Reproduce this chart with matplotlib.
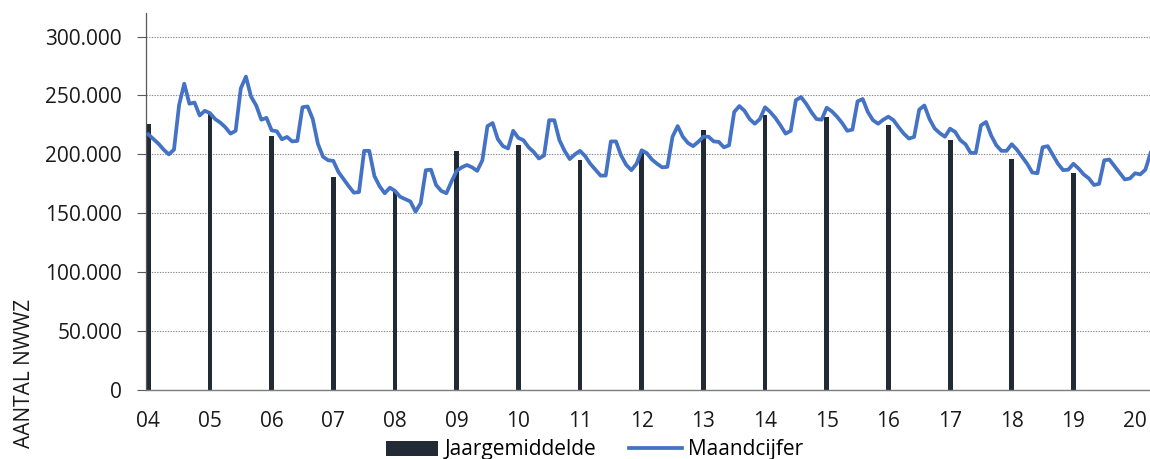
import matplotlib
matplotlib.use("Agg")
import matplotlib.pyplot as plt
from matplotlib.ticker import FuncFormatter, FixedLocator
from matplotlib.patches import Patch
from matplotlib.lines import Line2D
import numpy as np

plt.rcParams['font.family'] = ['Open Sans', 'DejaVu Sans']

# ---- data ----
year_labels = ['04', '05', '06', '07', '08', '09', '10', '11', '12', '13',
               '14', '15', '16', '17', '18', '19', '20']
annual_avg = [226000, 234000, 216000, 180500, 168000, 202700, 207700, 195000,
              201000, 221000, 233000, 232000, 224600, 212500, 196000, 184600]
monthly = [
    217, 213, 209, 204, 200, 204, 242, 260, 243, 244, 233, 237,
    235, 230, 227, 223, 217.6, 220, 256, 266, 249, 241.5, 229.4, 231,
    220.4, 219.6, 212.8, 214.8, 211, 211.4, 240, 240.7, 230, 209, 198, 195,
    194.5, 185, 179, 173, 167.5, 168, 203, 203, 181.5, 173, 167, 171.7,
    169, 164, 162, 160, 151.4, 158.5, 186.6, 187, 174, 169, 167, 177,
    186, 189, 191, 189, 186, 195, 224, 226.6, 213, 207, 205, 220,
    214, 212, 206, 202, 196.5, 199, 229, 229, 212, 203, 196, 200,
    203, 198.5, 192, 187, 182, 182, 211, 211, 199, 191, 186.6, 192,
    203.5, 201, 195.6, 192, 189, 189.4, 215, 224, 215, 209.7, 207, 210.6,
    215, 215, 211, 210.6, 206, 207.7, 236, 241, 237, 230, 226, 230,
    240, 236, 231, 224.6, 217.6, 220, 246, 248.6, 243, 236, 230, 229.4,
    239.6, 236.5, 232, 226.6, 220, 221, 245, 247, 236, 229, 226, 229.4,
    232, 229, 223, 217.6, 213.4, 214.8, 238, 241.5, 230, 222, 218, 215,
    221.8, 219, 212, 208.6, 201.3, 201.3, 224.6, 227.5, 216, 207.7, 203, 203,
    208.6, 204, 198, 192, 184.6, 184, 206, 207, 199.5, 192, 186.6, 187,
    192, 188, 183, 179.6, 174, 175, 195, 195.6, 190, 184.4, 178.7, 179.6,
    184, 183, 187, 201,
]
monthly = [v * 1000 for v in monthly]
yticks = [0, 50000, 100000, 150000, 200000, 250000, 300000]

# ---- figure ----
fig = plt.figure(figsize=(11.5, 4.59), dpi=100)
ax = fig.add_axes([0.1267, 0.1503, 0.8733, 0.8214])

months_per_year = 12
bar_x = np.arange(len(annual_avg)) * months_per_year
line_x = np.arange(len(monthly))

ax.bar(bar_x, annual_avg, width=0.95, color='#222a35', zorder=2,
       label='Jaargemiddelde')
ax.plot(line_x, monthly, color='#4472c4', lw=2.7, zorder=3,
        solid_joinstyle='round', label='Maandcijfer')

ax.set_xlim(-0.5, 194.9)
ax.set_ylim(0, 320000)

ax.yaxis.set_major_locator(FixedLocator(yticks))
ax.yaxis.set_major_formatter(FuncFormatter(lambda v, p: f"{int(v):,}".replace(",", ".")))
ax.set_xticks(np.arange(len(year_labels)) * months_per_year)
ax.set_xticklabels(year_labels)

ax.tick_params(axis='y', direction='out', length=6.5, width=0.8, color='#595959',
               labelsize=15, pad=10.5, labelcolor='#1a1a1a')
ax.tick_params(axis='x', length=0, labelsize=15, pad=15, labelcolor='#1a1a1a')

ax.grid(axis='y', linestyle=(0, (1.2, 1.2)), color='#8c8c8c', lw=0.8, zorder=0)
ax.set_axisbelow(True)

for s in ['top', 'right']:
    ax.spines[s].set_visible(False)
ax.spines['left'].set_color('#595959')
ax.spines['left'].set_linewidth(0.9)
ax.spines['bottom'].set_color('#7f7f7f')
ax.spines['bottom'].set_linewidth(1.0)

fig.text(0.021, (459 - 373) / 459, 'AANTAL NWWZ', rotation=90, fontsize=15,
         ha='center', va='center', color='#1a1a1a')

handles = [Patch(facecolor='#222a35', edgecolor='none'),
           Line2D([0], [0], color='#4472c4', lw=2.7)]
fig.legend(handles, ['Jaargemiddelde', 'Maandcijfer'], loc='center',
           bbox_to_anchor=(594.5 / 1150, (459 - 450) / 459), ncol=2,
           frameon=False, fontsize=15, handlelength=2.5, handleheight=0.75,
           handletextpad=0.3, columnspacing=1.6, borderpad=0, borderaxespad=0)

fig.savefig('out.png', dpi=100)
